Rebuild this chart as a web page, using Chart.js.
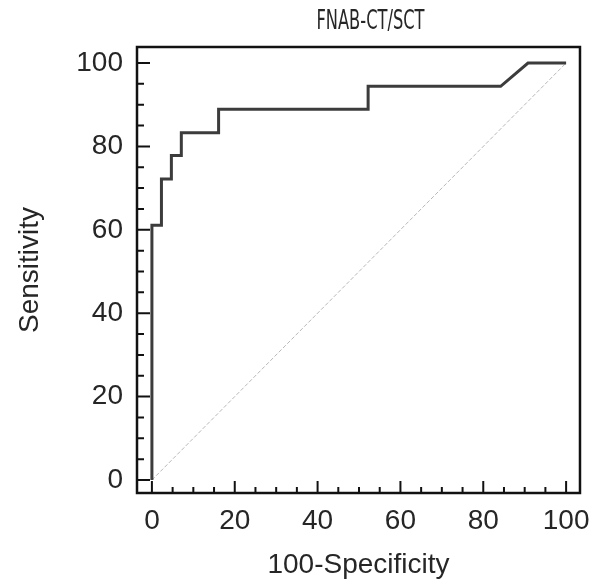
<!DOCTYPE html>
<html>
<head>
<meta charset="utf-8">
<script src="https://cdn.jsdelivr.net/npm/chart.js@4.4.1/dist/chart.umd.min.js"></script>
<style>
  html, body { margin: 0; padding: 0; background: #ffffff; }
  #wrap { width: 601px; height: 582px; }
</style>
</head>
<body>
<div id="wrap"><canvas id="c" width="601" height="582"></canvas></div>
<script>
// ---- data ----
const chartTitle = "FNAB-CT/SCT";
const xAxisTitle = "100-Specificity";
const yAxisTitle = "Sensitivity";
const rocFalsePositive = [0, 0, 2.3, 2.3, 4.7, 4.7, 7.1, 7.1, 16.1, 16.1, 52.2, 52.2, 84.2, 90.8, 100];
const rocSensitivity   = [0, 61.1, 61.1, 72.2, 72.2, 77.8, 77.8, 83.3, 83.3, 88.9, 88.9, 94.4, 94.4, 100, 100];
const diagonalX = [0, 100];
const diagonalY = [0, 100];
const majorTicks = [0, 20, 40, 60, 80, 100];
const minorTicks = [5, 10, 15, 25, 30, 35, 45, 50, 55, 65, 70, 75, 85, 90, 95];

const TEXT = '#262626';
const FONT = "'Liberation Sans', Arial, sans-serif";

const toPoints = (xs, ys) => xs.map((x, i) => ({ x: x, y: ys[i] }));

const framePlugin = {
  id: 'frameAndTicks',
  afterDatasetsDraw(chart) {
    const ctx = chart.ctx;
    const a = chart.chartArea;
    const xs = chart.scales.x, ys = chart.scales.y;
    ctx.save();
    ctx.strokeStyle = '#111';
    // inward ticks on left and bottom
    ctx.lineWidth = 2;
    ctx.beginPath();
    majorTicks.forEach(v => {
      const px = xs.getPixelForValue(v);
      ctx.moveTo(px, a.bottom); ctx.lineTo(px, a.bottom - 12);
      const py = ys.getPixelForValue(v);
      ctx.moveTo(a.left, py); ctx.lineTo(a.left + 13, py);
    });
    minorTicks.forEach(v => {
      const px = xs.getPixelForValue(v);
      ctx.moveTo(px, a.bottom); ctx.lineTo(px, a.bottom - 6);
      const py = ys.getPixelForValue(v);
      ctx.moveTo(a.left, py); ctx.lineTo(a.left + 7, py);
    });
    ctx.stroke();
    // frame
    ctx.lineWidth = 2.5;
    ctx.strokeRect(a.left, a.top, a.right - a.left, a.bottom - a.top);
    // title (condensed face, narrowed to the reference width)
    ctx.fillStyle = TEXT;
    ctx.font = "26px 'Liberation Sans Narrow', 'DejaVu Sans Condensed', sans-serif";
    ctx.textAlign = 'center';
    ctx.textBaseline = 'alphabetic';
    const w = ctx.measureText(chartTitle).width;
    const sx = Math.min(1, 108 / w);
    ctx.translate((a.left + a.right) / 2 + 12, 29);
    ctx.scale(sx, 1);
    ctx.fillText(chartTitle, 0, 0);
    ctx.restore();
  }
};

new Chart(document.getElementById('c'), {
  type: 'line',
  data: {
    datasets: [
      {
        label: 'ROC',
        data: toPoints(rocFalsePositive, rocSensitivity),
        borderColor: '#3c3c3c',
        borderWidth: 3,
        pointRadius: 0,
        tension: 0,
        fill: false
      },
      {
        label: 'Reference',
        data: toPoints(diagonalX, diagonalY),
        borderColor: '#b8b8b8',
        borderWidth: 1,
        borderDash: [4, 2],
        pointRadius: 0,
        tension: 0,
        fill: false
      }
    ]
  },
  options: {
    responsive: false,
    animation: false,
    layout: { padding: { top: 47, right: 17, left: 0, bottom: 0 } },
    plugins: {
      legend: { display: false },
      tooltip: { enabled: false },
      title: { display: false }
    },
    scales: {
      x: {
        type: 'linear',
        min: -3.6,
        max: 103.35,
        afterBuildTicks: axis => { axis.ticks = majorTicks.map(v => ({ value: v })); },
        afterFit: scale => { scale.height = 89; },
        grid: { display: false, drawTicks: false },
        border: { display: false },
        ticks: { padding: 11, color: TEXT, font: { family: FONT, size: 28 }, maxRotation: 0, autoSkip: false },
        title: { display: true, text: xAxisTitle, color: TEXT, font: { family: FONT, size: 28 }, padding: { top: 2, bottom: 0 } }
      },
      y: {
        type: 'linear',
        min: -3.12,
        max: 103.84,
        afterBuildTicks: axis => { axis.ticks = majorTicks.map(v => ({ value: v })); },
        afterFit: scale => { scale.width = 137; },
        grid: { display: false, drawTicks: false },
        border: { display: false },
        ticks: { padding: 14, color: TEXT, font: { family: FONT, size: 28 }, autoSkip: false },
        title: { display: true, text: yAxisTitle, color: TEXT, font: { family: FONT, size: 28 }, padding: { top: 13, bottom: 0 } }
      }
    }
  },
  plugins: [framePlugin]
});
</script>
</body>
</html>
